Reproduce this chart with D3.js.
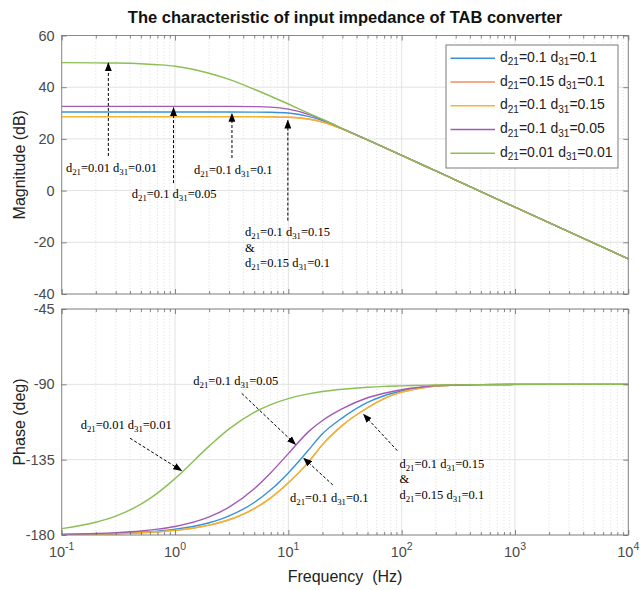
<!DOCTYPE html>
<html>
<head>
<meta charset="utf-8">
<script src="https://cdn.jsdelivr.net/npm/d3@7"></script>
<style>
  body { margin: 0; background: #fff; }
  svg { display: block; }
  text { font-family: "Liberation Sans", Arial, Helvetica, sans-serif; white-space: pre; }
</style>
</head>
<body>
<svg id="chart" width="641" height="590"></svg>
<script>
// ---- data -------------------------------------------------------------
const freqs = [0.1, 0.2, 0.3, 0.5, 0.7, 1, 2, 3, 5, 7, 10, 15, 20, 30, 50, 70, 100, 150, 200, 300, 500, 1000, 10000];

// magnitude (dB)
const magBlue   = [30.4, 30.4, 30.4, 30.4, 30.4, 30.4, 30.4, 30.4, 30.37, 30.3, 30.0, 28.7, 27.1, 23.9, 19.6, 16.7, 13.6, 10.1, 7.6, 4.06, -0.4, -6.4, -26.4];
const magOrange = [28.6, 28.6, 28.6, 28.6, 28.6, 28.6, 28.6, 28.6, 28.6, 28.55, 28.4, 27.7, 26.5, 23.8, 19.6, 16.7, 13.6, 10.1, 7.6, 4.06, -0.4, -6.4, -26.4];
const magYellow = [28.6, 28.6, 28.6, 28.6, 28.6, 28.6, 28.6, 28.6, 28.6, 28.55, 28.4, 27.7, 26.5, 23.8, 19.6, 16.7, 13.6, 10.1, 7.6, 4.06, -0.4, -6.4, -26.4];
const magPurple = [32.6, 32.6, 32.6, 32.6, 32.6, 32.6, 32.6, 32.59, 32.5, 32.3, 31.5, 29.5, 27.4, 24.0, 19.6, 16.7, 13.6, 10.1, 7.6, 4.06, -0.4, -6.4, -26.4];
const magGreen  = [49.5, 49.4, 49.35, 49.1, 48.7, 48.1, 45.4, 43.0, 39.2, 36.5, 33.5, 30.0, 27.6, 24.0, 19.6, 16.7, 13.6, 10.1, 7.6, 4.05, -0.4, -6.4, -26.4];

// phase (deg)
const phBlue   = [-179.7, -179.4, -179.1, -178.4, -177.7, -176.6, -172.7, -168.6, -160.6, -153.0, -142.9, -129.4, -119.5, -110.0, -100.8, -96.8, -94.0, -91.9, -90.9, -90.45, -90.15, -90.05, -90.0];
const phOrange = [-179.8, -179.5, -179.3, -178.7, -178.1, -177.25, -174.1, -170.9, -164.25, -157.8, -148.8, -136.6, -126.0, -114.5, -104.0, -98.5, -94.7, -92.2, -91.0, -90.5, -90.15, -90.05, -90.0];
const phYellow = [-179.8, -179.5, -179.3, -178.7, -178.1, -177.25, -174.1, -170.9, -164.25, -157.8, -148.8, -136.6, -126.0, -114.5, -104.0, -98.5, -94.7, -92.2, -91.0, -90.5, -90.15, -90.05, -90.0];
const phPurple = [-179.6, -179.1, -178.6, -177.6, -176.5, -174.9, -169.2, -163.4, -152.4, -142.8, -131.4, -118.4, -111.6, -104.5, -98.0, -95.3, -93.2, -91.6, -90.8, -90.4, -90.15, -90.05, -90.0];
const phGreen  = [-176.2, -172.4, -168.7, -161.6, -155.0, -146.3, -126.9, -116.6, -106.7, -102.1, -98.5, -95.7, -94.3, -92.9, -91.7, -91.2, -90.9, -90.6, -90.4, -90.3, -90.2, -90.1, -90.0];

const seriesNames  = ["d_{21}=0.1 d_{31}=0.1", "d_{21}=0.15 d_{31}=0.1", "d_{21}=0.1 d_{31}=0.15", "d_{21}=0.1 d_{31}=0.05", "d_{21}=0.01 d_{31}=0.01"];
const seriesColors = ["#3a92d6", "#ef8c66", "#f3b52f", "#a15bb3", "#8bbf55"];
const magSeries    = [magBlue, magOrange, magYellow, magPurple, magGreen];
const phaseSeries  = [phBlue, phOrange, phYellow, phPurple, phGreen];

// axes
const freqDomain = [0.1, 10000];
const freqTicks = [0.1, 1, 10, 100, 1000, 10000];
const freqTickLabels = ["10^{-1}", "10^{0}", "10^{1}", "10^{2}", "10^{3}", "10^{4}"];
const magDomain = [-40, 60];
const magTicks = [-40, -20, 0, 20, 40, 60];
const phaseDomain = [-180, -45];
const phaseTicks = [-180, -135, -90, -45];

const titleText = "The characteristic of input impedance of TAB converter";
const magLabel = "Magnitude (dB)";
const phaseLabel = "Phase (deg)";
const freqLabel = "Frequency  (Hz)";

// call-outs: [frequency, value] for text anchor, arrow tail and arrow tip
const magNotes = [
  { lines: ["d_{21}=0.01 d_{31}=0.01"], text: [0.109, 7.3], from: [0.258, 13.4], to: [0.258, 49.5] },
  { lines: ["d_{21}=0.1 d_{31}=0.05"], text: [0.415, -2.9], from: [0.97, 2.9], to: [0.97, 32.1] },
  { lines: ["d_{21}=0.1 d_{31}=0.1"], text: [1.47, 6.4], from: [3.18, 12.6], to: [3.18, 29.9] },
  { lines: ["d_{21}=0.1 d_{31}=0.15", "&", "d_{21}=0.15 d_{31}=0.1"], text: [4.15, -17.6], from: [9.9, -11.6], to: [9.9, 27.3] }
];
const phaseNotes = [
  { lines: ["d_{21}=0.01 d_{31}=0.01"], text: [0.147, -116.9], from: [0.401, -122.2], to: [1.146, -141.6] },
  { lines: ["d_{21}=0.1 d_{31}=0.05"], text: [1.45, -90.5], from: [3.88, -95.4], to: [11.6, -126.0] },
  { lines: ["d_{21}=0.1 d_{31}=0.1"], text: [10.35, -160.3], from: [24.7, -150.1], to: [13.6, -134.0] },
  { lines: ["d_{21}=0.1 d_{31}=0.15", "&", "d_{21}=0.15 d_{31}=0.1"], text: [95.5, -139.8], from: [91.6, -129.6], to: [45.9, -107.8] }
];

// ---- layout -----------------------------------------------------------
const svg = d3.select("#chart");
const plotL = 61.7, plotR = 628.3;
const magTop = 35.5, magBottom = 294;
const phTop = 309, phBottom = 535;

const x = d3.scaleLog().domain(freqDomain).range([plotL, plotR]);
const yMag = d3.scaleLinear().domain(magDomain).range([magBottom, magTop]);
const yPh = d3.scaleLinear().domain(phaseDomain).range([phBottom, phTop]);

const minorFreqs = [];
for (let e = -1; e < 4; e++) for (let m = 2; m <= 9; m++) minorFreqs.push(m * Math.pow(10, e));

// text with _{sub} and ^{sup} parts
function richText(sel, str, size, smallSize, subDy, supDy) {
  const parts = str.split(/(_\{[^}]*\}|\^\{[^}]*\})/).filter(s => s.length);
  let cur = 0;
  parts.forEach(p => {
    let m;
    if ((m = p.match(/^_\{(.*)\}$/))) {
      sel.append("tspan").attr("dy", subDy - cur).style("font-size", smallSize + "px").text(m[1]);
      cur = subDy;
    } else if ((m = p.match(/^\^\{(.*)\}$/))) {
      sel.append("tspan").attr("dy", -supDy - cur).style("font-size", smallSize + "px").text(m[1]);
      cur = -supDy;
    } else {
      sel.append("tspan").attr("dy", -cur).style("font-size", size + "px").text(p);
      cur = 0;
    }
  });
}

// arrow head
svg.append("defs").append("marker")
  .attr("id", "head")
  .attr("markerUnits", "userSpaceOnUse")
  .attr("markerWidth", 9).attr("markerHeight", 7)
  .attr("refX", 8.5).attr("refY", 3.5)
  .attr("orient", "auto")
  .append("path").attr("d", "M0,0 L9,3.5 L0,7 Z").attr("fill", "#000");

function drawPanel(id, y, ticks, series, notes, yLabelText) {
  const [bot, top] = y.range();
  const g = svg.append("g").attr("class", id);

  g.append("clipPath").attr("id", "clip-" + id)
    .append("rect").attr("x", plotL).attr("y", top).attr("width", plotR - plotL).attr("height", bot - top);

  // grid
  g.append("g").selectAll("line").data(minorFreqs).join("line")
    .attr("x1", d => x(d)).attr("x2", d => x(d)).attr("y1", top).attr("y2", bot)
    .attr("stroke", "#d4d4d4").attr("stroke-width", 0.8).attr("stroke-dasharray", "1,2.2");
  g.append("g").selectAll("line").data(freqTicks).join("line")
    .attr("x1", d => x(d)).attr("x2", d => x(d)).attr("y1", top).attr("y2", bot)
    .attr("stroke", "#e2e2e2").attr("stroke-width", 1);
  g.append("g").selectAll("line").data(ticks).join("line")
    .attr("x1", plotL).attr("x2", plotR).attr("y1", d => y(d)).attr("y2", d => y(d))
    .attr("stroke", "#e2e2e2").attr("stroke-width", 1);

  // series
  const line = d3.line().x(d => x(d[0])).y(d => y(d[1])).curve(d3.curveMonotoneX);
  const lg = g.append("g").attr("clip-path", "url(#clip-" + id + ")");
  series.forEach((vals, i) => {
    lg.append("path")
      .attr("d", line(freqs.map((f, k) => [f, vals[k]])))
      .attr("fill", "none").attr("stroke", seriesColors[i]).attr("stroke-width", 1.4);
  });

  // frame
  g.append("rect").attr("x", plotL).attr("y", top).attr("width", plotR - plotL).attr("height", bot - top)
    .attr("fill", "none").attr("stroke", "#8a8a8a").attr("stroke-width", 1);

  // ticks (inside the box)
  const styleAxis = a => {
    a.select(".domain").remove();
    a.selectAll(".tick line").attr("stroke", "#6a6a6a").attr("stroke-width", 0.8);
  };
  g.append("g").attr("transform", `translate(0,${bot})`)
    .call(d3.axisBottom(x).tickValues(freqTicks).tickSize(-5).tickFormat("")).call(styleAxis);
  g.append("g").attr("transform", `translate(0,${bot})`)
    .call(d3.axisBottom(x).tickValues(minorFreqs).tickSize(-3).tickFormat("")).call(styleAxis);
  g.append("g").attr("transform", `translate(0,${top})`)
    .call(d3.axisTop(x).tickValues(freqTicks).tickSize(-5).tickFormat("")).call(styleAxis);
  g.append("g").attr("transform", `translate(0,${top})`)
    .call(d3.axisTop(x).tickValues(minorFreqs).tickSize(-3).tickFormat("")).call(styleAxis);
  g.append("g").attr("transform", `translate(${plotR},0)`)
    .call(d3.axisRight(y).tickValues(ticks).tickSize(-5).tickFormat("")).call(styleAxis);
  const left = g.append("g").attr("transform", `translate(${plotL},0)`)
    .call(d3.axisLeft(y).tickValues(ticks).tickSize(-5).tickPadding(7).tickFormat(d => String(d)))
    .call(styleAxis);
  left.selectAll(".tick text")
    .attr("fill", "#4a4a4a")
    .style("font-size", "14.5px")
    .style("font-family", "'Liberation Sans', Arial, sans-serif");
  left.attr("font-family", null).attr("font-size", null);

  // axis title
  g.append("text")
    .attr("transform", `translate(25,${(top + bot) / 2}) rotate(-90)`)
    .attr("text-anchor", "middle")
    .attr("fill", "#222")
    .style("font-size", "16px")
    .text(yLabelText);

  // call-outs
  const ng = g.append("g");
  notes.forEach(n => {
    ng.append("line")
      .attr("x1", x(n.from[0])).attr("y1", y(n.from[1]))
      .attr("x2", x(n.to[0])).attr("y2", y(n.to[1]))
      .attr("stroke", "#000").attr("stroke-width", 1)
      .attr("stroke-dasharray", "3,2")
      .attr("marker-end", "url(#head)");
    n.lines.forEach((ln, i) => {
      const t = ng.append("text")
        .attr("x", x(n.text[0])).attr("y", y(n.text[1]) + i * 15.6)
        .attr("fill", "#000")
        .style("font-family", "'Liberation Serif', 'Times New Roman', serif");
      richText(t, ln, 12.5, 8.8, 3, 5);
    });
  });
}

drawPanel("mag", yMag, magTicks, magSeries, magNotes, magLabel);
drawPanel("phase", yPh, phaseTicks, phaseSeries, phaseNotes, phaseLabel);

// frequency tick labels
const xl = svg.append("g");
freqTicks.forEach((f, i) => {
  const t = xl.append("text")
    .attr("x", x(f)).attr("y", 557)
    .attr("text-anchor", "middle")
    .attr("fill", "#4a4a4a");
  richText(t, freqTickLabels[i], 14.5, 10.5, 3, 7);
});

svg.append("text")
  .attr("x", (plotL + plotR) / 2).attr("y", 582)
  .attr("text-anchor", "middle").attr("fill", "#222")
  .style("font-size", "16px")
  .text(freqLabel);

// title
svg.append("text")
  .attr("x", (plotL + plotR) / 2).attr("y", 23)
  .attr("text-anchor", "middle").attr("fill", "#111")
  .style("font-size", "16.5px").style("font-weight", "bold")
  .text(titleText);

// legend
const legX = 446, legY = 45, legW = 172, legH = 123, rowH = 23.75;
const leg = svg.append("g");
leg.append("rect").attr("x", legX).attr("y", legY).attr("width", legW).attr("height", legH)
  .attr("fill", "#fff").attr("stroke", "#7a7a7a").attr("stroke-width", 1);
seriesNames.forEach((name, i) => {
  const cy = legY + 13.3 + i * rowH;
  leg.append("line").attr("x1", legX + 4.5).attr("x2", legX + 49).attr("y1", cy).attr("y2", cy)
    .attr("stroke", seriesColors[i]).attr("stroke-width", 1.4);
  const t = leg.append("text").attr("x", legX + 54).attr("y", cy + 3.5).attr("fill", "#222");
  richText(t, name, 14, 10, 3.5, 5);
});
</script>
</body>
</html>
